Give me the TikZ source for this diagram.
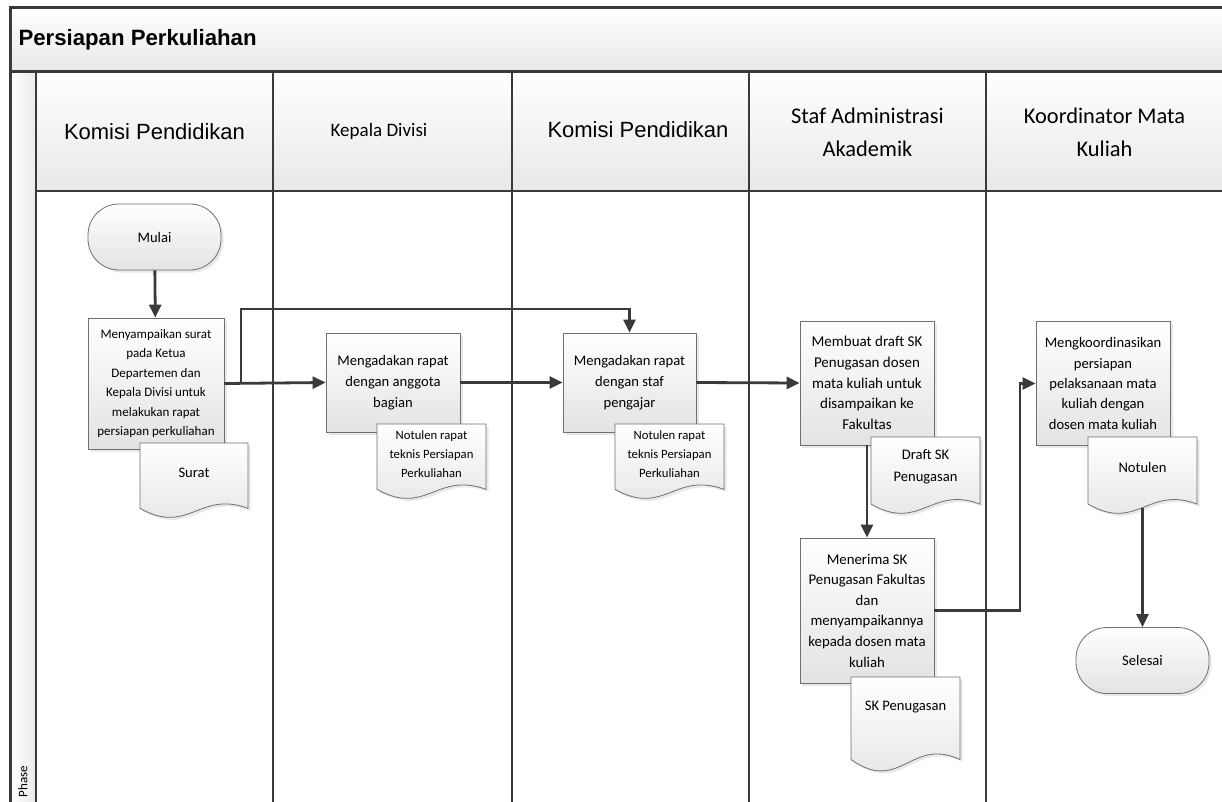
\documentclass[tikz,border=0pt]{standalone}
\usepackage{fontspec}
\setmainfont{Carlito}
\newfontfamily\arialfont{Liberation Sans}
\usetikzlibrary{positioning,arrows.meta,shadows}
\definecolor{lineclr}{HTML}{3A3A3A}
\definecolor{boxline}{HTML}{707070}
\tikzset{
  lane/.style={draw=lineclr, line width=2.4pt},
  frame/.style={draw=lineclr, line width=3pt},
  headfill/.style={top color=white, bottom color=black!9, draw=none},
  process/.style={draw=boxline, line width=0.8pt, top color=white, bottom color=black!11,
    drop shadow={opacity=0.18, shadow xshift=2.5pt, shadow yshift=-2.5pt},
    align=center, inner sep=1pt, font=\fontsize{14.6}{21}\selectfont},
  terminal/.style={process, rectangle, rounded corners=31pt, minimum width=133pt, minimum height=66pt},
  doctext/.style={align=center, inner sep=0pt, font=\fontsize{14.6}{22}\selectfont},
  notefont/.style={font=\fontsize{12.7}{19}\selectfont},
  plainfont/.style={},
  flow/.style={draw=lineclr, line width=2.8pt, -{Triangle[length=13pt,width=12pt]}},
  pics/docshape/.style args={#1/#2/#3/#4}{
    code = {
        \path [process] (0,0) -- (#1,0) -- (#1,0.86*#2) .. controls (0.55*#1,0.62*#2) and (0.45*#1,1.22*#2) .. (0,0.86*#2) -- cycle;
        \node [doctext, #3] (-txt) at (0.5*#1,30) {#4};
        \coordinate (-bot) at (0.5*#1,0.905*#2);
    }
  }
}

\begin{document}
\begin{tikzpicture}[x=1pt,y=-1pt]
            \useasboundingbox (0,0) rectangle (1222,802);
            \clip (0,0) rectangle (1222,802);

            % pool, lanes and headers
            \fill [headfill] (10,8) rectangle (1240,72);
            \fill [headfill] (36,72) rectangle (1240,191);
            \shade [left color=white, right color=black!8] (10,72) rectangle (36,820);
            \draw [frame] (10,820) -- (10,8) -- (1240,8);
            \draw [frame] (10,72) -- (1240,72);
            \draw [lane] (36,191) -- (1240,191);
            \draw [lane] (36,72) -- (36,820);
            \foreach \xl in {273,512,749,986}
                \draw [lane] (\xl,72) -- (\xl,820);

            \node (title) [anchor=west, font=\arialfont\bfseries\fontsize{22.2}{26}\selectfont] at (15,40) {Persiapan Perkuliahan};
            \node (phase) [rotate=90, anchor=west, font=\fontsize{13}{15}\selectfont] at (23,801) {Phase};

            \node (h1) [font=\arialfont\fontsize{22}{26}\selectfont] at (154.5,131.5) {Komisi Pendidikan};
            \node (h2) [font=\fontsize{19}{22}\selectfont] at (379,131) {Kepala Divisi};
            \node (h3) [font=\arialfont\fontsize{22}{26}\selectfont] at (638,129.5) {Komisi Pendidikan};
            \node (h4) [align=center, font=\fontsize{22.4}{33}\selectfont] at (867.5,132) {Staf Administrasi\\Akademik};
            \node (h5) [align=center, font=\fontsize{22.4}{33}\selectfont] at (1104.5,132) {Koordinator Mata\\Kuliah};

            % flow steps
            \node (mulai) [terminal] at (154.5,237) {Mulai};
            \node (p1) [process, minimum width=136pt, minimum height=131pt, font=\fontsize{13}{19.4}\selectfont] at (156,383.5)
                {Menyampaikan surat\\pada Ketua\\Departemen dan\\Kepala Divisi untuk\\melakukan rapat\\persiapan perkuliahan};
            \pic (surat) at (140,443) {docshape=108/76/plainfont/Surat};

            \node (p2) [process, minimum width=134pt, minimum height=99pt] at (393,382.5) {Mengadakan rapat\\dengan anggota\\bagian};
            \pic (not1) at (377,424) {docshape=109/76/notefont/{Notulen rapat\\teknis Persiapan\\Perkuliahan}};

            \node (p3) [process, minimum width=133pt, minimum height=99pt] at (629.5,382.5) {Mengadakan rapat\\dengan staf\\pengajar};
            \pic (not2) at (615,424) {docshape=109/76/notefont/{Notulen rapat\\teknis Persiapan\\Perkuliahan}};

            \node (p4) [process, minimum width=134pt, minimum height=124pt, font=\fontsize{15}{20.8}\selectfont] at (867,383)
                {Membuat draft SK\\Penugasan dosen\\mata kuliah untuk\\disampaikan ke\\Fakultas};
            \pic (draft) at (871,437) {docshape=109/78/plainfont/{Draft SK\\Penugasan}};

            \node (p5) [process, minimum width=134pt, minimum height=145pt, font=\fontsize{14.8}{20.6}\selectfont] at (867,610.5)
                {Menerima SK\\Penugasan Fakultas\\dan\\menyampaikannya\\kepada dosen mata\\kuliah};
            \pic (skp) at (851,677) {docshape=109/96/plainfont/SK Penugasan};

            \node (p6) [process, minimum width=134pt, minimum height=124pt, font=\fontsize{14.6}{20.4}\selectfont] at (1103,383.5)
                {Mengkoordinasikan\\persiapan\\pelaksanaan mata\\kuliah dengan\\dosen mata kuliah};
            \pic (notulen) at (1088,437) {docshape=109/78/plainfont/Notulen};

            \node (selesai) [terminal] at (1142.5,660.5) {Selesai};

            % connectors
            \coordinate (split) at (241,383.5);
            \coordinate (bend) at (241,309);
            \coordinate (turn) at (1020,383.5);
            \draw [flow] (mulai) -- (p1);
            \draw [flow] (p1.east) -- (p2.west);
            \draw [flow] (split) -- (bend) -| (p3.north);
            \draw [flow] (p2.east) -- (p3.west);
            \draw [flow] (p3.east) -- (p4.west);
            \draw [flow] (p4) -- (p5);
            \draw [flow] (p5.east) -- (p5.east -| turn) |- (p6.west);
            \draw [flow] (notulen-bot) -- (selesai.north);
        \end{tikzpicture}
\end{document}
